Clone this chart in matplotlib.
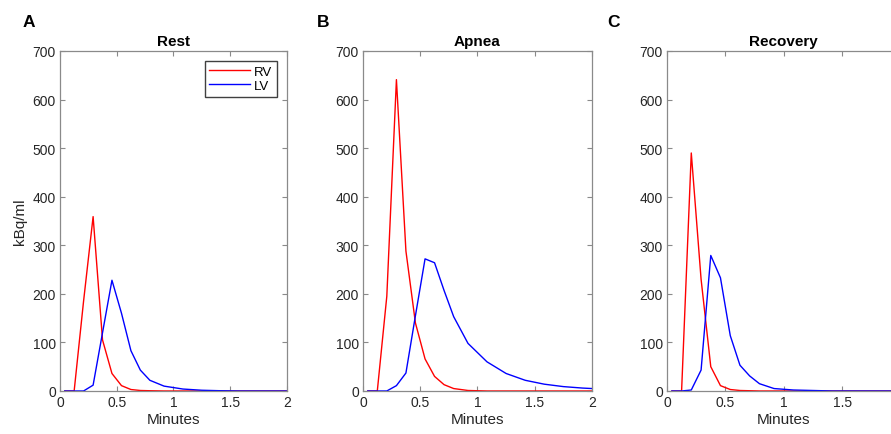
import matplotlib
matplotlib.use('Agg')
import matplotlib.pyplot as plt

plt.rcParams['font.family'] = ['Liberation Sans', 'DejaVu Sans']

# frame mid-times (minutes)
minutes = [0.042, 0.125, 0.208, 0.292, 0.375, 0.458, 0.542, 0.625, 0.708, 0.792,
           0.917, 1.083, 1.25, 1.417, 1.583, 1.75, 1.917, 2.083]

# kBq/ml per condition
rest_rv = [0, 0, 185, 359, 105, 36, 11, 3, 1, 0.5, 0, 0, 0, 0, 0, 0, 0, 0]
rest_lv = [0, 0, 0, 12, 120, 228, 160, 83, 43, 22, 10, 4, 1.5, 0.5, 0, 0, 0, 0]
apnea_rv = [0, 0, 195, 641, 288, 140, 66, 30, 13, 5, 1, 0, 0, 0, 0, 0, 0, 0]
apnea_lv = [0, 0, 0, 11, 37, 155, 272, 264, 207, 153, 98, 60, 36, 22, 14, 9, 6, 4]
recovery_rv = [0, 0, 490, 230, 50, 11, 3, 1, 0.5, 0, 0, 0, 0, 0, 0, 0, 0, 0]
recovery_lv = [0, 0, 2, 43, 279, 233, 114, 53, 31, 15, 5, 2, 1, 0, 0, 0, 0, 0]

titles = ['Rest', 'Apnea', 'Recovery']
letters = ['A', 'B', 'C']
rv_series = [rest_rv, apnea_rv, recovery_rv]
lv_series = [rest_lv, apnea_lv, recovery_lv]
xtick_vals = [0, 0.5, 1, 1.5, 2]
xtick_labels = ['0', '0.5', '1', '1.5', '2']

fig = plt.figure(figsize=(8.91, 4.35), dpi=100)

# axes positions in figure fractions (left, bottom, width, height)
# the third panel runs past the right edge, as in the cropped original
positions = [(0.0673, 0.0989, 0.2548, 0.7816),
             (0.4074, 0.0989, 0.2570, 0.7816),
             (0.7486, 0.0989, 0.2620, 0.7816)]
letter_x = [0.025, 0.356, 0.681]

spine_col = '#8a8a8a'
text_col = '#262626'

for i in range(3):
    ax = fig.add_axes(positions[i])
    ax.plot(minutes, rv_series[i], color='#ff0000', lw=1.0, label='RV')
    ax.plot(minutes, lv_series[i], color='#0000ff', lw=1.0, label='LV')
    ax.set_xlim(0, 2)
    ax.set_ylim(0, 700)
    ax.set_xticks(xtick_vals)
    labels = list(xtick_labels)
    if i == 2:
        labels[-1] = ''  # cut off in the original
    ax.set_xticklabels(labels)
    ax.set_yticks(range(0, 701, 100))
    ax.tick_params(direction='in', length=3.5, width=0.8, top=True, right=True,
                   labelsize=10, colors=spine_col, labelcolor=text_col, pad=3)
    for s in ax.spines.values():
        s.set_color(spine_col)
        s.set_linewidth(0.9)
    ax.set_title(titles[i], fontsize=11, fontweight='bold', pad=4, color='black')
    ax.set_xlabel('Minutes', fontsize=11, color=text_col, labelpad=2)
    if i == 0:
        ax.set_ylabel('kBq/ml', fontsize=11, color=text_col, labelpad=4)
        ax.legend(loc='upper right', fontsize=9.5, handlelength=3.1, handletextpad=0.3,
                  labelspacing=0.15, borderpad=0.35, borderaxespad=0.75,
                  fancybox=False, framealpha=1, edgecolor='#404040')
    fig.text(letter_x[i], 0.938, letters[i], fontsize=12.5, fontweight='bold')

fig.savefig('out.png', dpi=100)
